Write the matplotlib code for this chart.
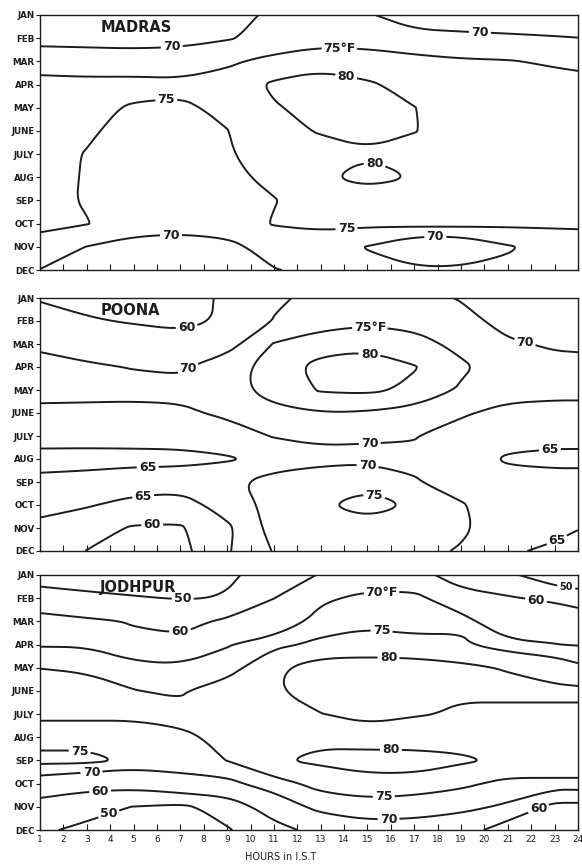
import numpy as np
import matplotlib.pyplot as plt
from matplotlib.path import Path

# hours of the day (IST) at which the grid was read, and the months
hours = [1, 3, 5, 7, 9, 11, 13, 15, 17, 19, 21, 23, 24]
months = ['JAN', 'FEB', 'MAR', 'APR', 'MAY', 'JUNE', 'JULY', 'AUG', 'SEP', 'OCT', 'NOV', 'DEC']
hour_ticks = list(range(1, 25))

# temperature (deg F), one row per month
madras = [
    [66, 66, 65.5, 66, 68, 71, 72, 70.3, 68.5, 68, 68, 68, 68],
    [68.5, 68.3, 68, 68.5, 69.6, 71.5, 73, 72.8, 71, 70.8, 70.5, 70.2, 70.05],
    [72.8, 72.6, 72.5, 72.5, 74.2, 76.5, 78, 77.5, 76.7, 75.6, 75.3, 74.3, 73.6],
    [76.5, 76.2, 76.3, 76, 77, 80.8, 82.5, 80.6, 78.5, 77.8, 77.5, 77, 77],
    [77, 76, 74.6, 74.3, 75.9, 79.6, 81.5, 82, 80.1, 78, 77.5, 77, 77],
    [77, 75.6, 73.5, 73, 74.9, 78, 80.5, 81, 80.2, 78, 77.5, 77, 77],
    [76.5, 74.8, 73, 72.5, 74.7, 76.5, 77.5, 79.6, 78, 77.5, 77, 76.8, 76.8],
    [76.5, 74.7, 73, 72.5, 74, 76, 79.4, 81.5, 79.9, 77.5, 77, 76.8, 76.8],
    [76.5, 74.6, 73, 72.5, 73.5, 74.8, 77, 77.5, 77, 77, 76.5, 76, 76],
    [76.5, 75.2, 72.5, 72, 72.5, 75.3, 76, 76, 76.5, 76.5, 76, 75.8, 75.8],
    [72.5, 69.9, 68.1, 67.6, 68.65, 72, 72.5, 69.8, 65, 65, 69.5, 72, 72.5],
    [69.9, 67, 66, 66, 67.5, 69.8, 71, 71, 71, 71, 71, 72, 72],
]

poona = [
    [64.8, 63, 62.5, 63.5, 65.6, 69.4, 71, 72, 71, 69.8, 68.5, 68, 68],
    [66, 65.6, 64.5, 63.8, 65.6, 70.2, 73, 74, 73.3, 71, 69, 68.5, 68.5],
    [68.5, 68, 68.3, 67, 68, 75.3, 77.5, 78.5, 77, 73.5, 70.4, 69.6, 69.5],
    [72.8, 70.6, 69.8, 69.3, 73, 77, 82, 83, 80.3, 76, 72, 71, 70.9],
    [71.5, 71.4, 71.5, 71.5, 73.5, 76.5, 80.5, 81, 79, 74.3, 72, 71.5, 71.5],
    [68.9, 68.8, 68.5, 69, 71, 74, 74.8, 74.5, 73, 70.6, 68.5, 68.2, 68.2],
    [66.8, 66.7, 66.7, 66.7, 67.5, 70.3, 70.8, 70.5, 70.2, 68, 66.5, 66.3, 66.3],
    [63.5, 63.5, 63.6, 63.8, 64.5, 66.5, 68.8, 69, 69.3, 67, 64.5, 64, 64],
    [66, 66.5, 67.5, 67.5, 68.5, 72.5, 72.5, 73.5, 70.3, 68.5, 66.5, 66.5, 66.5],
    [65.6, 65.4, 63.5, 62.5, 67.5, 71.5, 74.5, 77, 74.5, 70.3, 68, 67.5, 67.5],
    [64.5, 62, 59.5, 59.5, 63.9, 72, 72.5, 73, 72.5, 70.6, 68, 66, 65.1],
    [63.5, 59.9, 57, 58.5, 64.5, 70.3, 71.5, 71.5, 71, 69.7, 65.5, 64.3, 64],
]

jodhpur = [
    [47, 46.5, 46, 46.5, 49.6, 51, 61, 64, 62, 57.5, 52, 43.5, 44],
    [53, 51.5, 50.5, 49.7, 50.2, 59.9, 68.5, 72.2, 73, 62, 60.9, 58, 54],
    [63.9, 61.5, 59.5, 57, 61.7, 64, 73, 74, 73.8, 74.3, 61, 68, 68.3],
    [69.5, 69.4, 61.7, 62.6, 69.5, 74, 75.9, 77, 76, 75.6, 73, 70.1, 69.7],
    [74.9, 74.5, 73.6, 71.5, 73, 79, 82.7, 82.5, 82.7, 81.2, 79.5, 79.1, 76.3],
    [77.5, 76.5, 75.1, 74.5, 77.5, 79.6, 82, 83, 83, 80.5, 82, 80.4, 81],
    [75.8, 75.8, 76, 76.2, 78, 79.2, 79.9, 81, 80.4, 79.5, 78, 79.6, 79],
    [73, 73, 72.5, 74.2, 76, 79.3, 79, 78.4, 77.1, 78, 77.5, 78, 77.5],
    [76.5, 76.5, 74, 72.3, 75.1, 79.5, 81, 81.4, 82.4, 80.8, 79, 76.5, 75.6],
    [66.5, 64, 63.5, 68, 68.3, 73.1, 76.5, 78.8, 77.9, 76, 73.7, 74.5, 74.8],
    [56, 52.5, 49.8, 48, 54, 65.3, 72.2, 72.5, 72.1, 71.5, 69.1, 57, 56.9],
    [51, 48.5, 44, 45, 49.2, 56.4, 63.5, 68, 67.9, 65.7, 53.9, 52, 51],
]

madras_levels = [70, 75, 80]
poona_levels = [60, 65, 70, 75, 80]
jodhpur_levels = [50, 60, 70, 75, 80]

# (level, hour, month index, text) for each printed label
madras_labels = [(70, 6.65, 1.6, '70'), (70, 19.8, 0.86, '70'), (75, 13.8, 1.5, '75°F'),
                 (80, 14.1, 2.6, '80'), (80, 15.3, 6.5, '80'), (75, 6.4, 3.66, '75'),
                 (70, 6.6, 9.48, '70'), (75, 14.1, 9.2, '75'), (70, 17.9, 9.55, '70')]
poona_labels = [(65, 7.3, 1.48, '60'), (70, 7.4, 3.2, '70'), (75, 15.1, 1.3, '75°F'),
                (80, 15.1, 2.3, '80'), (70, 21.7, 2.04, '70'), (70, 15.1, 6.4, '70'),
                (70, 15.0, 7.35, '70'), (65, 5.6, 7.3, '65'), (65, 22.8, 6.6, '65'),
                (65, 5.4, 8.5, '65'), (75, 15.3, 8.5, '75'), (60, 5.8, 10.0, '60'),
                (65, 23.0, 10.3, '65')]
jodhpur_labels = [(50, 7.1, 1.08, '50'), (60, 7.0, 2.54, '60'), (70, 15.6, 0.73, '70°F'),
                  (60, 22.2, 1.1, '60'), (50, 23.5, 0.5, '50'), (75, 15.6, 2.5, '75'),
                  (80, 15.9, 3.53, '80'), (80, 16.0, 7.5, '80'), (75, 2.7, 7.6, '75'),
                  (70, 3.2, 8.53, '70'), (60, 3.57, 9.3, '60'), (50, 4.0, 10.5, '50'),
                  (75, 15.7, 9.6, '75'), (70, 15.9, 10.4, '70'), (60, 22.3, 10.04, '60')]

panels = [
    ('MADRAS', madras, madras_levels, madras_labels, (40, 15, 578, 270)),
    ('POONA', poona, poona_levels, poona_labels, (40, 298, 578, 551)),
    ('JODHPUR', jodhpur, jodhpur_levels, jodhpur_labels, (40, 575, 578, 830)),
]


def chaikin(v, closed, n=3):
    # corner cutting, to draw the isotherms as smooth hand-drawn curves
    for _ in range(n):
        p = v if closed else v[:-1]
        q = np.roll(v, -1, axis=0) if closed else v[1:]
        cut = np.empty((2 * len(p), 2))
        cut[0::2] = 0.75 * p + 0.25 * q
        cut[1::2] = 0.25 * p + 0.75 * q
        v = cut if closed else np.vstack([v[:1], cut, v[-1:]])
    return v


def smooth_path(path):
    verts, codes = [], []
    for v in path.to_polygons(closed_only=False):
        if len(v) < 2:
            continue
        if len(v) > 3 and np.allclose(v[0], v[-1]):
            s = chaikin(v[:-1], True)
            s = np.vstack([s, s[:1]])
            c = [Path.MOVETO] + [Path.LINETO] * (len(s) - 2) + [Path.CLOSEPOLY]
        else:
            s = chaikin(v, False)
            c = [Path.MOVETO] + [Path.LINETO] * (len(s) - 1)
        verts.append(s)
        codes.extend(c)
    if not verts:
        return path
    return Path(np.vstack(verts), np.array(codes, dtype=Path.code_type))


W, H = 582, 865
ink = '#1c1c1c'
fig = plt.figure(figsize=(W / 100, H / 100), dpi=100)

for i, (name, data, levels, labels, box) in enumerate(panels):
    x0, y0, x1, y1 = box
    ax = fig.add_axes([x0 / W, 1 - y1 / H, (x1 - x0) / W, (y1 - y0) / H])
    Z = np.array(data)
    # one contour set per isotherm so that each label lands on its own line
    sets = {}
    for lev in levels:
        cs = ax.contour(hours, np.arange(12), Z, levels=[lev],
                        colors=ink, linewidths=1.4)
        new = [smooth_path(p) for p in cs.get_paths()]
        try:
            cs.set_paths(new)
        except (AttributeError, NotImplementedError):
            cs._paths = new
        sets[lev] = cs
    for lev, h, m, txt in labels:
        small = txt == '50' and h > 20
        sets[lev].clabel(manual=[(h, m)], inline=True, fontsize=7 if small else 9,
                         fmt={lev: txt}, inline_spacing=3)
    for cs in sets.values():
        for t in cs.labelTexts:
            t.set_color(ink)
            t.set_fontweight('bold')
            t.set_rotation(0)
    ax.set_xlim(1, 24)
    ax.set_ylim(11, 0)
    ax.set_yticks(range(12))
    ax.set_yticklabels(months, fontsize=6.3, fontweight='bold')
    ax.set_xticks(hour_ticks)
    ax.tick_params(axis='y', direction='out', length=3, width=0.8, pad=1, colors=ink)
    ax.tick_params(axis='x', direction='in', length=4, width=0.8, colors=ink)
    if i == 2:
        ax.set_xticklabels([str(h) for h in hour_ticks], fontsize=6.5)
        ax.set_xlabel('HOURS in I.S.T', fontsize=7, labelpad=5, color=ink)
        ax.xaxis.set_label_coords(0.447, -0.085)
    else:
        ax.set_xticklabels([])
    for s in ax.spines.values():
        s.set_linewidth(1.0)
        s.set_color(ink)
    ax.text(0.112, 0.95, name, transform=ax.transAxes, fontsize=10.5,
            fontweight='bold', ha='left', va='center', color=ink)

fig.savefig('out.png', dpi=100)
